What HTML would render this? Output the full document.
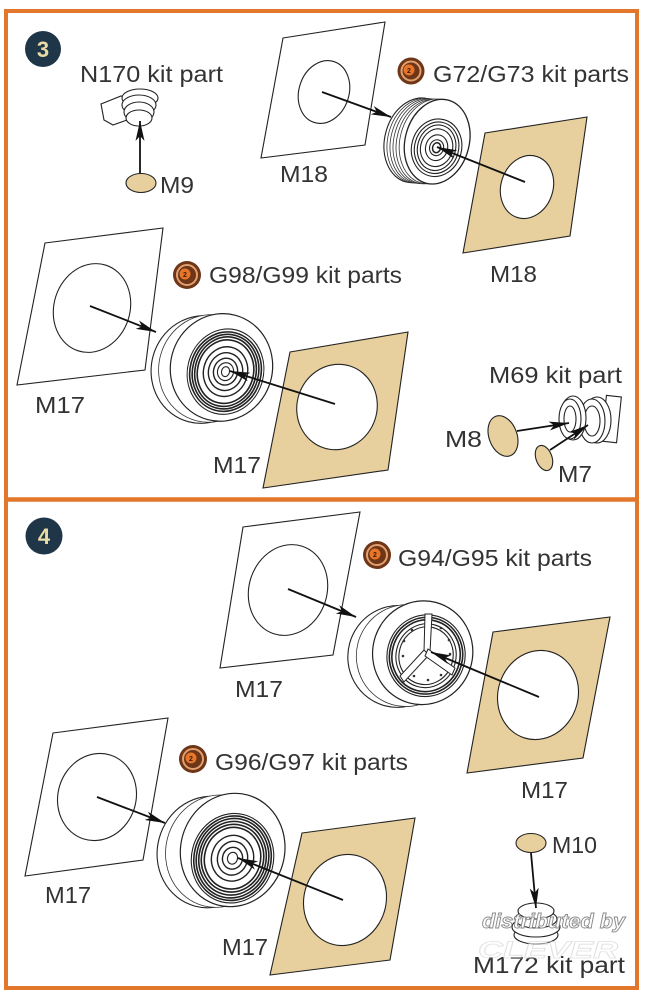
<!DOCTYPE html>
<html><head><meta charset="utf-8"><style>
html,body{margin:0;padding:0;background:#fff;}
svg{display:block;}
text{font-family:"Liberation Sans",sans-serif;fill:#333;}
</style></head><body>
<svg width="657" height="1000" viewBox="0 0 657 1000" xmlns="http://www.w3.org/2000/svg">
<defs>
<marker id="ah" markerUnits="userSpaceOnUse" markerWidth="22" markerHeight="12" refX="20" refY="6" orient="auto"><path d="M0,1.5 L20,6 L0,10.5 L5,6 Z" fill="#111"/></marker>
</defs>
<rect width="657" height="1000" fill="#fff"/>
<!-- frame -->
<rect x="6" y="11" width="631" height="977" fill="none" stroke="#e2762b" stroke-width="4"/>
<line x1="6" y1="499.5" x2="637" y2="499.5" stroke="#e2762b" stroke-width="4.5"/>

<!-- badges -->
<circle cx="43" cy="49" r="18" fill="#1f3548"/>
<text x="43" y="57" font-size="22" font-weight="bold" text-anchor="middle" style="fill:#e8dba3">3</text>
<circle cx="44" cy="536" r="18.5" fill="#1f3548"/>
<text x="44" y="544" font-size="22" font-weight="bold" text-anchor="middle" style="fill:#e8dba3">4</text>

<g stroke="#222" stroke-width="1.1" fill="#fff">
<!-- ===== Section 3 ===== -->
<!-- N170 part -->
<path d="M101,104 L121,96 L128,97 L127,120 L113,125 L104,120 Z"/>
<ellipse cx="140" cy="98" rx="18" ry="9"/>
<ellipse cx="139" cy="105" rx="17" ry="10"/>
<ellipse cx="139" cy="112" rx="15" ry="10"/>
<ellipse cx="139" cy="118" rx="13" ry="8"/>
<ellipse cx="141" cy="183" rx="15" ry="9.5" fill="#e7d09e"/>

<!-- M18 white -->
<polygon points="283,38 385,22 365,145 261,158"/>
<ellipse cx="324" cy="92" rx="25" ry="32" transform="rotate(18 324 92)"/>
<!-- M18 tan -->
<polygon points="485,133 587,117 570,236 463,253" fill="#e7d09e"/>
<ellipse cx="527" cy="187" rx="26" ry="32" transform="rotate(18 527 187)"/>

<!-- G72 wheel -->
<g transform="rotate(15 427 141)">
<ellipse cx="417" cy="143" rx="32" ry="43"/>
<ellipse cx="420" cy="142.5" rx="32" ry="43" stroke="#333" stroke-width="0.8"/>
<ellipse cx="423" cy="142" rx="32" ry="43" stroke="#333" stroke-width="0.8"/>
<ellipse cx="426" cy="141.5" rx="32" ry="43" stroke="#333" stroke-width="0.8"/>
<ellipse cx="429" cy="141" rx="32" ry="43" stroke="#333" stroke-width="0.8"/>
<ellipse cx="432" cy="140" rx="32" ry="43" stroke="#333" stroke-width="0.8"/>
<ellipse cx="437" cy="139" rx="32" ry="43" stroke-width="1.3"/>
<ellipse cx="438" cy="145" rx="25" ry="29"/>
<ellipse cx="438" cy="145" rx="22" ry="26"/>
<ellipse cx="438" cy="145" rx="19" ry="23"/>
<ellipse cx="438" cy="145" rx="16" ry="19"/>
<ellipse cx="438" cy="145" rx="11" ry="13"/>
<ellipse cx="438" cy="145" rx="7" ry="8"/>
<ellipse cx="438" cy="145" rx="4" ry="5" stroke-width="1.5"/>
</g>

<!-- M17 white (sec3) -->
<polygon points="45,243 163,228 145,370 17,385"/>
<ellipse cx="92" cy="308" rx="38" ry="45" transform="rotate(18 92 308)"/>
<!-- M17 tan (sec3) -->
<polygon points="290,352 408,332 388,470 263,488" fill="#e7d09e"/>
<ellipse cx="337" cy="407" rx="40" ry="43" transform="rotate(18 337 407)"/>

<!-- G98 wheel -->
<g transform="rotate(15 212 368)">
<ellipse cx="203" cy="372" rx="51" ry="54"/>
<ellipse cx="210" cy="369" rx="51" ry="54" stroke="#333" stroke-width="0.8"/>
<ellipse cx="221" cy="365" rx="51" ry="54" stroke-width="1.2"/>
<g fill="none">
<ellipse cx="226" cy="368" rx="38" ry="43"/>
<ellipse cx="226" cy="368" rx="35.5" ry="40" stroke-width="1.6"/>
<ellipse cx="226" cy="368" rx="33" ry="37.5" stroke-width="1.6"/>
<ellipse cx="226" cy="368" rx="30.5" ry="35" stroke-width="1.6"/>
<ellipse cx="226" cy="368" rx="28" ry="32" stroke-width="1.6"/>
<ellipse cx="226" cy="368" rx="22" ry="25" stroke-width="1.4"/>
<ellipse cx="226" cy="368" rx="17" ry="19" stroke-width="1.4"/>
<ellipse cx="226" cy="368" rx="12" ry="13.5" stroke-width="1.4"/>
<ellipse cx="226" cy="368" rx="8" ry="9"/>
<ellipse cx="226" cy="368" rx="4" ry="5"/>
</g>
</g>

<!-- M69 part -->
<rect x="604" y="396" width="15" height="46" transform="rotate(6 611 419)"/>
<ellipse cx="597" cy="420" rx="14" ry="23"/>
<ellipse cx="592" cy="421" rx="13" ry="22"/>
<ellipse cx="592" cy="421" rx="8" ry="15"/>
<ellipse cx="573" cy="418" rx="13" ry="22"/>
<ellipse cx="570" cy="419" rx="11" ry="20"/>
<ellipse cx="570" cy="419" rx="6" ry="13"/>
<ellipse cx="503" cy="436" rx="14" ry="21" fill="#e7d09e" transform="rotate(-20 503 436)"/>
<ellipse cx="544" cy="458" rx="8" ry="13" fill="#e7d09e" transform="rotate(-20 544 458)"/>

<!-- ===== Section 4 ===== -->
<!-- M17 white top -->
<polygon points="243,527 360,512 333,655 220,668"/>
<ellipse cx="288" cy="590" rx="39" ry="46" transform="rotate(18 288 590)"/>
<!-- M17 tan right -->
<polygon points="493,632 610,617 583,758 467,773" fill="#e7d09e"/>
<ellipse cx="538" cy="695" rx="40" ry="45" transform="rotate(18 538 695)"/>

<!-- G94 wheel -->
<g transform="rotate(15 412 654)">
<ellipse cx="399" cy="660" rx="50" ry="51"/>
<ellipse cx="407" cy="657" rx="50" ry="51" stroke="#333" stroke-width="0.8"/>
<ellipse cx="422" cy="650" rx="50" ry="52" stroke-width="1.2"/>
<g fill="none">
<ellipse cx="426" cy="652" rx="39" ry="41"/>
<ellipse cx="426" cy="652" rx="36.5" ry="38.5" stroke-width="1.6"/>
<ellipse cx="426" cy="652" rx="34" ry="36" stroke-width="1.6"/>
<ellipse cx="426" cy="652" rx="30" ry="32"/>
<ellipse cx="426" cy="652" rx="27" ry="29"/>
</g>
</g>
<g fill="#fff" stroke="#222" stroke-width="1">
<polygon points="424,652 425,614 432,614 430,652"/>
<polygon points="424,650 400,676 404,682 429,655"/>
<polygon points="428,649 455,668 452,675 425,656"/>
</g>
<g fill="#333" stroke="none">
<circle cx="412" cy="630" r="1.3"/><circle cx="404" cy="641" r="1.3"/><circle cx="403" cy="656" r="1.3"/>
<circle cx="441" cy="628" r="1.3"/><circle cx="449" cy="640" r="1.3"/><circle cx="450" cy="654" r="1.3"/>
<circle cx="414" cy="676" r="1.3"/><circle cx="428" cy="680" r="1.3"/><circle cx="441" cy="675" r="1.3"/>
</g>

<!-- M17 white lower -->
<polygon points="53,733 168,718 143,860 25,876"/>
<ellipse cx="97" cy="797" rx="39" ry="44" transform="rotate(18 97 797)"/>
<!-- M17 tan lower -->
<polygon points="302,833 415,818 390,960 270,975" fill="#e7d09e"/>
<ellipse cx="345" cy="900" rx="41" ry="46" transform="rotate(18 345 900)"/>

<!-- G96 wheel -->
<g transform="rotate(15 221 851)">
<ellipse cx="210" cy="855" rx="52" ry="56"/>
<ellipse cx="218" cy="852" rx="52" ry="56.5" stroke="#333" stroke-width="0.8"/>
<ellipse cx="232" cy="847" rx="52" ry="57" stroke-width="1.2"/>
<g fill="none">
<ellipse cx="234" cy="855" rx="41" ry="45"/>
<ellipse cx="234" cy="855" rx="38.5" ry="42.5" stroke-width="1.6"/>
<ellipse cx="234" cy="855" rx="36" ry="40" stroke-width="1.6"/>
<ellipse cx="234" cy="855" rx="33.5" ry="37" stroke-width="1.6"/>
<ellipse cx="234" cy="855" rx="31" ry="34" stroke-width="1.6"/>
<ellipse cx="234" cy="855" rx="28" ry="31" stroke-width="1.6"/>
<ellipse cx="234" cy="855" rx="21" ry="23" stroke-width="1.4"/>
<ellipse cx="234" cy="855" rx="15" ry="17" stroke-width="1.4"/>
<ellipse cx="234" cy="855" rx="10" ry="11" stroke-width="1.4"/>
<ellipse cx="234" cy="855" rx="5" ry="6"/>
</g>
</g>

<!-- M10 / M172 -->
<ellipse cx="531" cy="843" rx="15" ry="9.5" fill="#e7d09e"/>
<ellipse cx="536" cy="935" rx="22" ry="9"/>
<ellipse cx="536" cy="927" rx="24" ry="10"/>
<ellipse cx="536" cy="919" rx="21" ry="9"/>
<ellipse cx="536" cy="911" rx="18" ry="8"/>
</g>

<!-- arrows -->
<g stroke="#111" stroke-width="1.8" fill="none" marker-end="url(#ah)">
<line x1="140" y1="173" x2="140" y2="121"/>
<line x1="322" y1="92" x2="391" y2="117"/>
<line x1="525" y1="182" x2="437" y2="147"/>
<line x1="90" y1="306" x2="156" y2="332"/>
<line x1="335" y1="404" x2="230" y2="371"/>
<line x1="517" y1="431" x2="569" y2="423"/>
<line x1="550" y1="450" x2="588" y2="425"/>
<line x1="288" y1="589" x2="356" y2="617"/>
<line x1="539" y1="697" x2="431" y2="652"/>
<line x1="97" y1="797" x2="165" y2="823"/>
<line x1="343" y1="900" x2="238" y2="858"/>
<line x1="531" y1="853" x2="536" y2="908"/>
</g>

<!-- orange icons -->
<g>
<circle cx="411" cy="71" r="13.5" fill="#6e3516"/><circle cx="411" cy="71" r="9.5" fill="none" stroke="#e0a070" stroke-width="2"/><circle cx="409" cy="70" r="5.5" fill="#e8762a"/>
<circle cx="187" cy="275" r="14" fill="#6e3516"/><circle cx="187" cy="275" r="10" fill="none" stroke="#e0a070" stroke-width="2"/><circle cx="185" cy="274" r="5.5" fill="#e8762a"/>
<circle cx="377" cy="555" r="14" fill="#6e3516"/><circle cx="377" cy="555" r="10" fill="none" stroke="#e0a070" stroke-width="2"/><circle cx="375" cy="554" r="5.5" fill="#e8762a"/>
<circle cx="193" cy="759" r="14" fill="#6e3516"/><circle cx="193" cy="759" r="10" fill="none" stroke="#e0a070" stroke-width="2"/><circle cx="191" cy="758" r="5.5" fill="#e8762a"/>
</g>
<g font-size="7" font-weight="bold" text-anchor="middle">
<text x="409" y="73" style="fill:#3a1a08">2</text>
<text x="185" y="277" style="fill:#3a1a08">2</text>
<text x="375" y="557" style="fill:#3a1a08">2</text>
<text x="191" y="761" style="fill:#3a1a08">2</text>
</g>

<!-- labels -->
<g font-size="23">
<text x="80" y="82" textLength="143" lengthAdjust="spacingAndGlyphs">N170 kit part</text>
<text x="160" y="193" textLength="34" lengthAdjust="spacingAndGlyphs">M9</text>
<text x="280" y="182" textLength="48" lengthAdjust="spacingAndGlyphs">M18</text>
<text x="433" y="82" textLength="196" lengthAdjust="spacingAndGlyphs">G72/G73 kit parts</text>
<text x="490" y="282" textLength="47" lengthAdjust="spacingAndGlyphs">M18</text>
<text x="209" y="283" textLength="193" lengthAdjust="spacingAndGlyphs">G98/G99 kit parts</text>
<text x="35" y="413" textLength="50" lengthAdjust="spacingAndGlyphs">M17</text>
<text x="213" y="473" textLength="48" lengthAdjust="spacingAndGlyphs">M17</text>
<text x="489" y="383" textLength="133" lengthAdjust="spacingAndGlyphs">M69 kit part</text>
<text x="445" y="447" textLength="37" lengthAdjust="spacingAndGlyphs">M8</text>
<text x="558" y="482" textLength="34" lengthAdjust="spacingAndGlyphs">M7</text>
<text x="398" y="566" textLength="194" lengthAdjust="spacingAndGlyphs">G94/G95 kit parts</text>
<text x="235" y="697" textLength="48" lengthAdjust="spacingAndGlyphs">M17</text>
<text x="521" y="798" textLength="47" lengthAdjust="spacingAndGlyphs">M17</text>
<text x="215" y="770" textLength="193" lengthAdjust="spacingAndGlyphs">G96/G97 kit parts</text>
<text x="45" y="903" textLength="46" lengthAdjust="spacingAndGlyphs">M17</text>
<text x="222" y="955" textLength="46" lengthAdjust="spacingAndGlyphs">M17</text>
<text x="552" y="853" textLength="45" lengthAdjust="spacingAndGlyphs">M10</text>
<text x="473" y="973" textLength="152" lengthAdjust="spacingAndGlyphs">M172 kit part</text>
</g>

<!-- watermark -->
<text x="482" y="928" font-size="20" font-style="italic" font-weight="bold" textLength="143" lengthAdjust="spacingAndGlyphs" style="fill:#fff;stroke:#8a8a8a;stroke-width:0.9">distributed by</text>
<text x="478" y="958" font-size="24" font-style="italic" font-weight="bold" textLength="140" lengthAdjust="spacingAndGlyphs" style="fill:#fff;stroke:#c8c8c8;stroke-width:0.8;opacity:0.55">CLEVER</text>
</svg>
</body></html>
